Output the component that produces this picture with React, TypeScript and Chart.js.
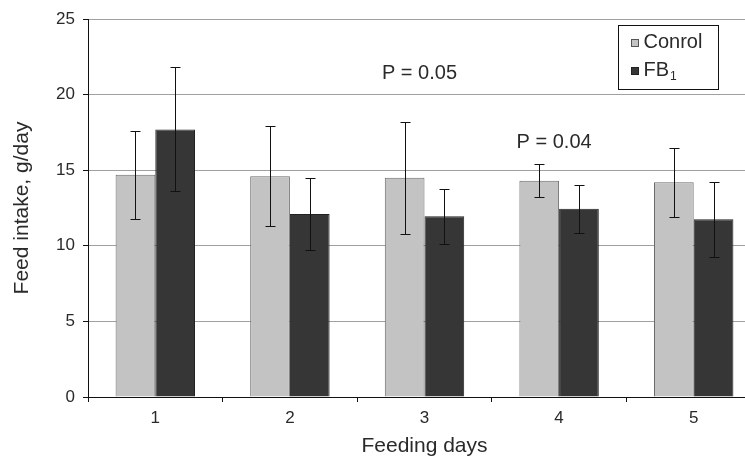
import React, { useEffect, useRef } from 'react';
import { Chart, registerables } from 'chart.js';

Chart.register(...registerables);

const categories = ['1', '2', '3', '4', '5'];
const controlMeans = [14.7, 14.6, 14.5, 14.3, 14.2];
const controlErrors = [2.9, 3.3, 3.7, 1.1, 2.3];
const fb1Means = [17.7, 12.1, 11.95, 12.45, 11.75];
const fb1Errors = [4.1, 2.4, 1.8, 1.6, 2.5];
const yTicks = [0, 5, 10, 15, 20, 25];
const pLabels = ['P = 0.05', 'P = 0.04'];
const pCategoryIndex = [2, 3];
const pValueLevel = [21.4, 16.8];
const seriesNames = ['Conrol', 'FB'];

const FONT = '"Liberation Sans", Arial, sans-serif';
const TEXT = '#2a2a2a';
const CONTROL_FILL = '#c3c3c3';
const CONTROL_BORDER = '#6a6a6a';
const FB_FILL = '#363636';
const FB_BORDER = '#222222';

const errorBarPlugin = {
  id: 'errorBars',
  afterDatasetsDraw(chart: any) {
    const ctx = chart.ctx;
    const y = chart.scales.y;
    const errs = [controlErrors, fb1Errors];
    chart.data.datasets.forEach((ds: any, di: number) => {
      const meta = chart.getDatasetMeta(di);
      meta.data.forEach((bar: any, i: number) => {
        const v = ds.data[i];
        const e = errs[di][i];
        const top = Math.round(y.getPixelForValue(v + e)) + 0.5;
        const bot = Math.round(y.getPixelForValue(v - e)) + 0.5;
        const x = Math.round(bar.x) + 0.5;
        ctx.save();
        ctx.strokeStyle = '#111';
        ctx.lineWidth = 1;
        ctx.beginPath();
        ctx.moveTo(x, top);
        ctx.lineTo(x, bot);
        ctx.moveTo(x - 5, top);
        ctx.lineTo(x + 5, top);
        ctx.moveTo(x - 5, bot);
        ctx.lineTo(x + 5, bot);
        ctx.stroke();
        ctx.restore();
      });
    });
  },
};

const annotationPlugin = {
  id: 'pAnnotations',
  afterDraw(chart: any) {
    const ctx = chart.ctx;
    const x = chart.scales.x;
    const y = chart.scales.y;
    ctx.save();
    ctx.font = `20px ${FONT}`;
    ctx.fillStyle = TEXT;
    ctx.textAlign = 'center';
    ctx.textBaseline = 'middle';
    pLabels.forEach((t, i) => {
      ctx.fillText(t, x.getPixelForValue(pCategoryIndex[i]) - 5, y.getPixelForValue(pValueLevel[i]));
    });
    ctx.restore();
  },
};

const legendPlugin = {
  id: 'boxLegend',
  afterDraw(chart: any) {
    const ctx = chart.ctx;
    const area = chart.chartArea;
    const bx = Math.round(area.right - 143) + 0.5;
    const by = Math.round(area.top + 6) + 0.5;
    const bw = 100;
    const bh = 64;
    ctx.save();
    ctx.fillStyle = '#fff';
    ctx.fillRect(bx, by, bw, bh);
    ctx.strokeStyle = '#111';
    ctx.lineWidth = 1;
    ctx.strokeRect(bx, by, bw, bh);
    const fills = [CONTROL_FILL, FB_FILL];
    const borders = ['#555', '#222'];
    const rowY = [by + 17, by + 45];
    ctx.textBaseline = 'middle';
    ctx.textAlign = 'left';
    seriesNames.forEach((name, i) => {
      const sx = bx + 13;
      const sy = Math.round(rowY[i] - 4) + 0.5;
      ctx.fillStyle = fills[i];
      ctx.fillRect(sx, sy, 7, 7);
      ctx.strokeStyle = borders[i];
      ctx.strokeRect(sx, sy, 7, 7);
      ctx.fillStyle = TEXT;
      ctx.font = `20px ${FONT}`;
      ctx.fillText(name, bx + 25, rowY[i]);
      if (i === 1) {
        const w = ctx.measureText(name).width;
        ctx.font = `12px ${FONT}`;
        ctx.fillText('1', bx + 25 + w + 1, rowY[i] + 6);
      }
    });
    ctx.restore();
  },
};

export default function App() {
  const canvasRef = useRef<HTMLCanvasElement | null>(null);

  useEffect(() => {
    const canvas = canvasRef.current;
    if (!canvas) return;
    const chart = new Chart(canvas, {
      type: 'bar',
      data: {
        labels: categories,
        datasets: [
          {
            label: seriesNames[0],
            data: controlMeans,
            backgroundColor: CONTROL_FILL,
            borderColor: CONTROL_BORDER,
            borderWidth: 1,
            categoryPercentage: 0.59,
            barPercentage: 1.0,
          },
          {
            label: seriesNames[1],
            data: fb1Means,
            backgroundColor: FB_FILL,
            borderColor: FB_BORDER,
            borderWidth: 1,
            categoryPercentage: 0.59,
            barPercentage: 1.0,
          },
        ],
      },
      options: {
        responsive: false,
        animation: false,
        devicePixelRatio: 1,
        layout: { padding: { left: 0, top: 19, right: 39, bottom: 0 } },
        plugins: {
          legend: { display: false },
          tooltip: { enabled: false },
          title: { display: false },
        },
        scales: {
          x: {
            afterFit: (scale: any) => {
              scale.height = 64;
            },
            grid: {
              display: true,
              drawOnChartArea: false,
              drawTicks: true,
              tickLength: 5,
              tickColor: '#111',
              offset: true,
            },
            border: { display: true, color: '#111', width: 1 },
            ticks: {
              color: TEXT,
              padding: 6,
              font: { family: FONT, size: 17 },
              maxRotation: 0,
            },
            title: {
              display: true,
              text: 'Feeding days',
              color: TEXT,
              font: { family: FONT, size: 21 },
              padding: { top: 0, bottom: 2 },
            },
          },
          y: {
            min: yTicks[0],
            max: yTicks[yTicks.length - 1],
            afterFit: (scale: any) => {
              scale.width = 88;
            },
            afterBuildTicks: (scale: any) => {
              scale.ticks = yTicks.map((v) => ({ value: v }));
            },
            grid: {
              color: '#a0a0a0',
              lineWidth: 1,
              tickColor: '#111',
              tickLength: 5,
              drawTicks: true,
            },
            border: { display: true, color: '#111', width: 1 },
            ticks: {
              color: TEXT,
              padding: 8,
              font: { family: FONT, size: 17 },
            },
            title: {
              display: true,
              text: 'Feed intake, g/day',
              color: TEXT,
              font: { family: FONT, size: 21 },
              padding: { top: 10, bottom: 0 },
            },
          },
        },
      },
      plugins: [errorBarPlugin, annotationPlugin, legendPlugin],
    });
    return () => chart.destroy();
  }, []);

  return (
    <div
      style={{
        position: 'fixed',
        left: 0,
        top: 0,
        width: 745,
        height: 461,
        overflow: 'hidden',
        background: '#fff',
      }}
    >
      <canvas ref={canvasRef} width={800} height={461} style={{ display: 'block' }} />
    </div>
  );
}
